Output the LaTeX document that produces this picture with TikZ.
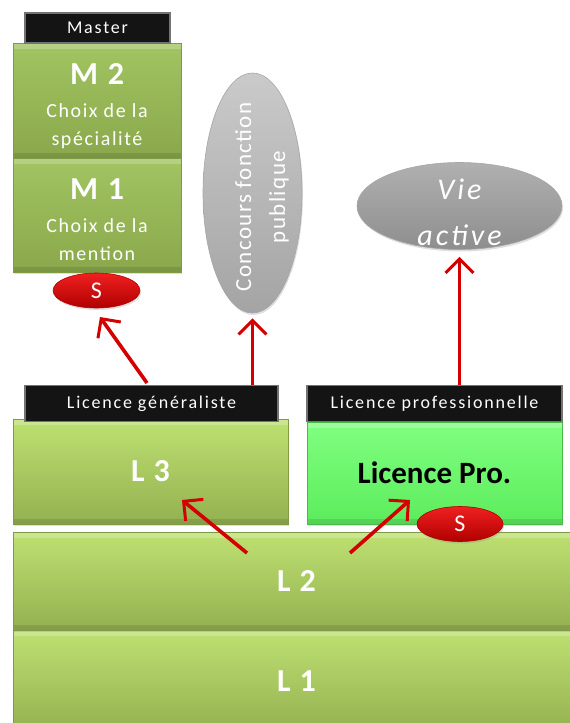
\documentclass[tikz,border=0pt]{standalone}
\usepackage{fontspec}
\setmainfont{Carlito}
\usetikzlibrary{arrows.meta,shapes.geometric,shadows}
\definecolor{olivetop}{HTML}{BEE172}
\definecolor{olivebot}{HTML}{94B050}
\definecolor{olivebord}{HTML}{7F9A45}
\definecolor{mtop}{HTML}{A2C462}
\definecolor{mbot}{HTML}{8AA84B}
\definecolor{protop}{HTML}{80FF80}
\definecolor{probot}{HTML}{5CEC5C}
\definecolor{probord}{HTML}{4CB84C}
\definecolor{arrowred}{HTML}{D40000}
\definecolor{redtop}{HTML}{F02020}
\definecolor{redbot}{HTML}{B00000}
\definecolor{graytop}{HTML}{CACACA}
\definecolor{graybot}{HTML}{A4A4A4}
\definecolor{vietop}{HTML}{B0B0B0}
\definecolor{viebot}{HTML}{8E8E8E}
\tikzset{
  shade/.style={drop shadow={opacity=0.25,shadow xshift=1pt,shadow yshift=-2pt}},
  bevel/.style={path picture={
      \fill[white,opacity=0.22] (path picture bounding box.north west) rectangle ([yshift=-6pt]path picture bounding box.north east);
      \fill[black,opacity=0.10] (path picture bounding box.south west) rectangle ([yshift=5pt]path picture bounding box.south east);}},
  olivebox/.style={rectangle, inner sep=0pt, top color=olivetop, bottom color=olivebot,
      draw=olivebord, line width=0.8pt, text=white, bevel, shade, align=center},
  mbox/.style={rectangle, inner sep=0pt, top color=mtop, bottom color=mbot,
      draw=olivebord, line width=0.8pt, text=white, bevel, shade, align=center},
  probox/.style={rectangle, inner sep=0pt, top color=protop, bottom color=probot,
      draw=probord, line width=0.8pt, text=black, bevel, shade, align=center},
  hdr/.style={rectangle, inner sep=0pt, fill=black!92, draw=black!55, line width=1.2pt,
      text=white, font=\fontsize{18}{20}\selectfont\addfontfeature{LetterSpace=10}},
  redS/.style={ellipse, inner sep=0pt, top color=redtop, bottom color=redbot, draw=redbot,
      line width=0.6pt, text=white, font=\fontsize{24}{26}\selectfont, shade},
  grayell/.style={ellipse, inner sep=0pt, top color=graytop, bottom color=graybot, draw=black!35,
      line width=0.6pt, text=white, align=center, shade},
  bigtxt/.style={font=\fontsize{32}{36}\selectfont\bfseries\addfontfeature{LetterSpace=6}},
  mtext/.style={text=white, align=center, inner sep=0pt,
      font=\fontsize{20}{28}\selectfont\addfontfeature{LetterSpace=8}},
  redarrow/.style={draw=arrowred, line width=3.6pt,
      -{Straight Barb[length=14pt,width=28pt,line width=3pt]}},
}
\begin{document}
\begin{tikzpicture}[x=1pt,y=-1pt]
\useasboundingbox (0,0) rectangle (570,723);
\clip (0,0) rectangle (570,723);

% bottom blocks
\node[olivebox, bigtxt, minimum width=567pt, minimum height=103pt] (l1) at (296.5,681.5) {L 1};
\node[olivebox, bigtxt, minimum width=567pt, minimum height=98pt] (l2) at (296.5,581) {L 2};

% L3 and Licence Pro
\node[olivebox, bigtxt, minimum width=275pt, minimum height=105pt] (l3) at (150.5,471.5) {L 3};
\node[probox, minimum width=255pt, minimum height=102pt,
      font=\fontsize{31}{36}\selectfont\bfseries] (lp) at (434.5,473) {Licence Pro.};
\node[hdr, minimum width=253pt, minimum height=36pt] (lgh) at (151.5,403.5) {Licence généraliste};
\node[hdr, minimum width=255pt, minimum height=36pt] (lph) at (434.5,403.5) {Licence professionnelle};
\node[redS, minimum width=86pt, minimum height=35pt] (s2) at (460,524) {S};

% Master
\node[mbox, minimum width=168pt, minimum height=115pt] (m2) at (97,100.5) {};
\node[mtext] (m2t) at (97,106)
      {{\fontsize{32}{34}\selectfont\bfseries M 2}\\[5pt]Choix de la\\spécialité};
\node[mbox, minimum width=168pt, minimum height=114pt] (m1) at (97,215) {};
\node[mtext] (m1t) at (97,220)
      {{\fontsize{32}{34}\selectfont\bfseries M 1}\\[5pt]Choix de la\\mention};
\node[hdr, minimum width=145pt, minimum height=30pt] (mh) at (97.5,28) {Master};
\node[redS, minimum width=87pt, minimum height=35pt] (s1) at (96.5,290.5) {S};

% outcomes
\node[grayell, minimum width=99pt, minimum height=240pt] (conc) at (252.5,193) {};
\node[rotate=90, text=white, align=center, inner sep=0pt,
      font=\fontsize{23}{34}\selectfont\addfontfeature{LetterSpace=6}] (conct) at (262,197) {Concours fonction\\publique};
\node[grayell, top color=vietop, bottom color=viebot, minimum width=205pt, minimum height=87pt] (vie) at (459.5,206) {};
\node[text=white, align=center, inner sep=0pt,
      font=\fontsize{30}{46}\selectfont\itshape\addfontfeature{LetterSpace=10}] (viet) at (459.5,212) {Vie\\active};

% arrows
\coordinate (a1s) at (147,383);
\coordinate (a1e) at (100,317);
\draw[redarrow] (a1s) -- (a1e);
\draw[redarrow, shorten >=5pt] (lgh.north -| conc.south) -- (conc.south);
\draw[redarrow, shorten >=7pt] (lph.north -| vie.south) -- (vie.south);
\coordinate (a4s) at (247,553);
\coordinate (a4e) at (182,500);
\draw[redarrow] (a4s) -- (a4e);
\coordinate (a5s) at (350,553);
\coordinate (a5e) at (410,500);
\draw[redarrow] (a5s) -- (a5e);
\end{tikzpicture}
\end{document}
